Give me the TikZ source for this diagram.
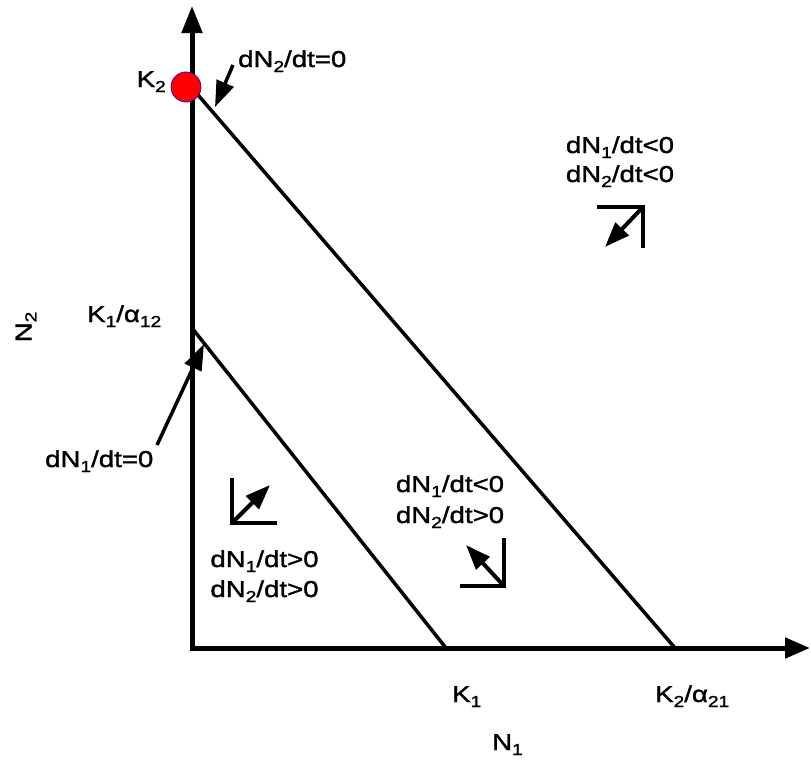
\documentclass[tikz,border=0pt]{standalone}
\usepackage{fontspec}
\setmainfont{Liberation Sans}[FakeStretch=1.2,FakeBold=1.5]
\usetikzlibrary{arrows.meta}
\newcommand\sbs[1]{\raisebox{-0.22em}{\fontsize{16}{16}\selectfont #1}}
\begin{document}
\begin{tikzpicture}[x=1pt,y=-1pt,
  lbl/.style={font=\fontsize{23}{29}\selectfont, inner sep=0pt},
  axisline/.style={line width=5pt, {Triangle[length=27pt,width=20pt]}-{Triangle[length=25pt,width=20pt]}},
  isoline/.style={line width=3.5pt},
  cornerline/.style={line width=4pt},
  flowarrow/.style={line width=4pt, -{Triangle[length=25pt,width=18pt]}},
  pointer/.style={line width=3.5pt, -{Triangle[length=26pt,width=18pt]}},
  reddot/.style={circle, fill=red, draw=blue!70!red, line width=0.8pt, minimum size=30pt, inner sep=0pt}]
\useasboundingbox (0,0) rectangle (811,761);
% axes
\coordinate (O) at (192,648);
\coordinate (ytop) at (192,6);
\coordinate (xend) at (810,648);
\draw[axisline] (ytop) -- (O) -- (xend);
% isoclines
\coordinate (K2pt) at (192,88);
\coordinate (K2a21pt) at (675,648);
\coordinate (K1a12pt) at (192,328);
\coordinate (K1pt) at (446,648);
\draw[isoline] (K2pt) -- (K2a21pt);
\draw[isoline] (K1a12pt) -- (K1pt);
\node[reddot] (dot) at (186,87) {};
% labels
\node[lbl, anchor=base west] (lN2zero) at (238,67) {dN\sbs{2}/dt=0};
\node[lbl, anchor=base east] (lK2) at (166,87) {K\sbs{2}};
\node[lbl, anchor=base west] (lK1a) at (87,322) {K\sbs{1}/α\sbs{12}};
\node[lbl, rotate=90] (lN2) at (26,327) {N\sbs{2}};
\node[lbl, anchor=base west] (lN1zero) at (45,467) {dN\sbs{1}/dt=0};
\node[lbl, anchor=base] (ur1) at (620,153) {dN\sbs{1}/dt<0};
\node[lbl, anchor=base] (ur2) at (620,182) {dN\sbs{2}/dt<0};
\node[lbl, anchor=base] (ll1) at (264.5,567) {dN\sbs{1}/dt>0};
\node[lbl, anchor=base] (ll2) at (264.5,597) {dN\sbs{2}/dt>0};
\node[lbl, anchor=base] (md1) at (450,492) {dN\sbs{1}/dt<0};
\node[lbl, anchor=base] (md2) at (450,523) {dN\sbs{2}/dt>0};
\node[lbl, anchor=base west] (lK1) at (452,702) {K\sbs{1}};
\node[lbl, anchor=base west] (lK2a) at (655,702) {K\sbs{2}/α\sbs{21}};
\node[lbl, anchor=base west] (lN1) at (492,750) {N\sbs{1}};
% pointers
\coordinate (p2s) at (233,65);
\coordinate (p2e) at (215,107);
\draw[pointer] (p2s) -- (p2e);
\coordinate (p1s) at (157,445);
\coordinate (p1e) at (204,344);
\draw[pointer] (p1s) -- (p1e);
% direction symbols
\coordinate (urA) at (597,207);
\coordinate (urC) at (643,207);
\coordinate (urB) at (643,248);
\coordinate (urT) at (605,247);
\draw[cornerline] (urA) -- (urC) -- (urB);
\draw[flowarrow] (urC) -- (urT);
\coordinate (llA) at (232,478);
\coordinate (llC) at (232,523);
\coordinate (llB) at (277,523);
\coordinate (llT) at (270,485);
\draw[cornerline] (llA) -- (llC) -- (llB);
\draw[flowarrow] (llC) -- (llT);
\coordinate (mdA) at (504,538);
\coordinate (mdC) at (504,586);
\coordinate (mdB) at (460,586);
\coordinate (mdT) at (466,545);
\draw[cornerline] (mdA) -- (mdC) -- (mdB);
\draw[flowarrow] (mdC) -- (mdT);
\end{tikzpicture}
\end{document}
